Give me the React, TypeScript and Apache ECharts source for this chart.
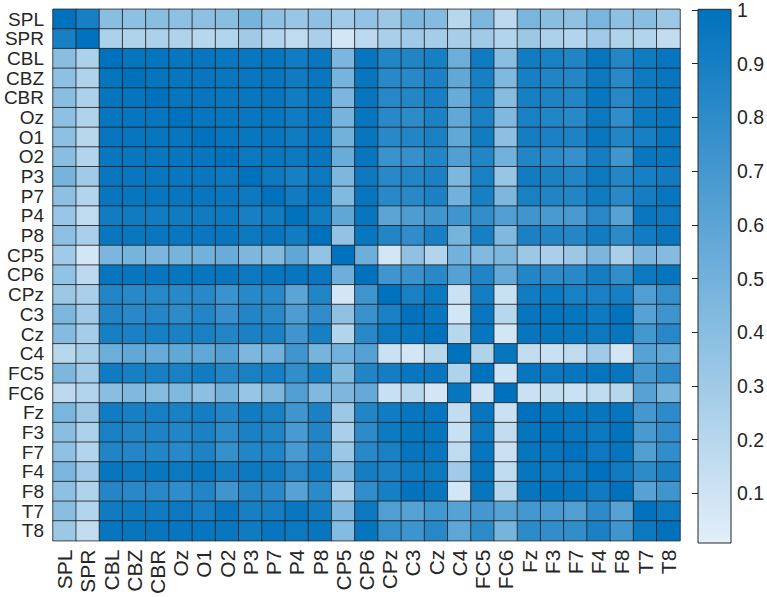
import React, { useEffect, useRef } from "react";
import * as echarts from "echarts";

const channels = [
  "SPL", "SPR", "CBL", "CBZ", "CBR", "Oz", "O1", "O2", "P3", "P7", "P4", "P8", "CP5", "CP6",
  "CPz", "C3", "Cz", "C4", "FC5", "FC6", "Fz", "F3", "F7", "F4", "F8", "T7", "T8",
];

// Upper-triangle rows (from the diagonal to the right)
const rowSPL = [1, 0.9, 0.4, 0.38, 0.4, 0.38, 0.38, 0.4, 0.48, 0.38, 0.33, 0.38, 0.3, 0.36, 0.32, 0.45, 0.42, 0.2, 0.45, 0.18, 0.47, 0.4, 0.37, 0.47, 0.38, 0.4, 0.32];
const rowSPR = [1, 0.25, 0.23, 0.25, 0.23, 0.2, 0.22, 0.3, 0.22, 0.17, 0.26, 0.08, 0.18, 0.26, 0.3, 0.28, 0.27, 0.3, 0.22, 0.32, 0.25, 0.22, 0.3, 0.23, 0.22, 0.15];
const rowCBL = [1, 0.98, 0.98, 0.97, 0.97, 0.96, 0.96, 0.97, 0.92, 0.96, 0.46, 0.97, 0.85, 0.86, 0.9, 0.53, 0.93, 0.4, 0.92, 0.89, 0.86, 0.97, 0.84, 0.93, 0.97];
const rowCBZ = [1, 0.98, 0.97, 0.97, 0.96, 0.96, 0.97, 0.93, 0.96, 0.48, 0.97, 0.82, 0.82, 0.88, 0.57, 0.9, 0.44, 0.9, 0.86, 0.84, 0.95, 0.82, 0.94, 0.97];
const rowCBR = [1, 0.97, 0.97, 0.96, 0.96, 0.97, 0.92, 0.96, 0.46, 0.97, 0.83, 0.84, 0.9, 0.55, 0.9, 0.41, 0.9, 0.87, 0.85, 0.96, 0.83, 0.93, 0.97];
const rowOz = [1, 0.97, 0.97, 0.96, 0.97, 0.93, 0.96, 0.48, 0.97, 0.82, 0.8, 0.88, 0.57, 0.89, 0.44, 0.89, 0.85, 0.82, 0.95, 0.79, 0.95, 0.97];
const rowO1 = [1, 0.97, 0.96, 0.97, 0.93, 0.96, 0.5, 0.97, 0.82, 0.85, 0.89, 0.57, 0.92, 0.39, 0.91, 0.88, 0.87, 0.96, 0.85, 0.9, 0.97];
const rowO2 = [1, 0.95, 0.96, 0.95, 0.97, 0.54, 0.97, 0.74, 0.76, 0.85, 0.64, 0.85, 0.5, 0.85, 0.8, 0.77, 0.91, 0.72, 0.96, 0.96];
const rowP3 = [1, 0.95, 0.9, 0.95, 0.45, 0.95, 0.82, 0.85, 0.88, 0.45, 0.89, 0.34, 0.92, 0.88, 0.85, 0.95, 0.84, 0.9, 0.93];
const rowP7 = [1, 0.93, 0.97, 0.43, 0.97, 0.82, 0.82, 0.88, 0.5, 0.9, 0.45, 0.89, 0.86, 0.85, 0.93, 0.82, 0.91, 0.97];
const rowP4 = [1, 0.92, 0.58, 0.97, 0.6, 0.66, 0.72, 0.72, 0.78, 0.65, 0.72, 0.68, 0.68, 0.83, 0.62, 0.96, 0.95];
const rowP8 = [1, 0.36, 0.96, 0.85, 0.79, 0.9, 0.48, 0.9, 0.44, 0.88, 0.86, 0.84, 0.92, 0.81, 0.92, 0.97];
const rowCP5 = [1, 0.52, 0.08, 0.37, 0.22, 0.5, 0.43, 0.45, 0.32, 0.26, 0.32, 0.46, 0.26, 0.46, 0.42];
const rowCP6 = [1, 0.72, 0.75, 0.82, 0.63, 0.86, 0.56, 0.85, 0.8, 0.82, 0.91, 0.78, 0.95, 0.98];
const rowCPz = [1, 0.89, 0.95, 0.12, 0.91, 0.13, 0.92, 0.94, 0.89, 0.88, 0.9, 0.65, 0.77];
const rowC3 = [1, 0.97, 0.08, 0.96, 0.2, 0.97, 0.98, 0.98, 0.94, 0.99, 0.62, 0.73];
const rowCz = [1, 0.2, 0.97, 0.08, 0.97, 0.98, 0.97, 0.95, 0.97, 0.71, 0.83];
const rowC4 = [1, 0.23, 0.97, 0.15, 0.13, 0.17, 0.3, 0.08, 0.62, 0.59];
const rowFC5 = [1, 0.1, 0.97, 0.95, 0.97, 0.98, 0.97, 0.7, 0.8];
const rowFC6 = [1, 0.12, 0.15, 0.12, 0.17, 0.2, 0.62, 0.48];
const rowFz = [1, 0.98, 0.97, 0.97, 0.97, 0.7, 0.8];
const rowF3 = [1, 0.97, 0.95, 0.99, 0.68, 0.78];
const rowF7 = [1, 0.95, 0.98, 0.65, 0.78];
const rowF4 = [1, 0.93, 0.8, 0.88];
const rowF8 = [1, 0.62, 0.72];
const rowT7 = [1, 0.95];
const rowT8 = [1];

const upperRows = [
  rowSPL, rowSPR, rowCBL, rowCBZ, rowCBR, rowOz, rowO1, rowO2, rowP3, rowP7, rowP4, rowP8, rowCP5,
  rowCP6, rowCPz, rowC3, rowCz, rowC4, rowFC5, rowFC6, rowFz, rowF3, rowF7, rowF4, rowF8, rowT7, rowT8,
];

const colorbarTicks = [0.1, 0.2, 0.3, 0.4, 0.5, 0.6, 0.7, 0.8, 0.9, 1];
const colorMin = 0.008;
const colorMax = 1;

const LOW = "#E3EFF9";
const HIGH = "#0072BD";
const TEXT = "#262626";
const FONT = "Liberation Sans, Arial, Helvetica, sans-serif";

export default function App() {
  const ref = useRef<HTMLDivElement>(null);

  useEffect(() => {
    if (!ref.current) return;
    const chart = echarts.init(ref.current, undefined, { renderer: "svg" });

    const data: number[][] = [];
    upperRows.forEach((row, i) => {
      row.forEach((v, k) => {
        const j = i + k;
        data.push([j, i, v]);
        if (j !== i) data.push([i, j, v]);
      });
    });

    const plotLeft = 53;
    const plotTop = 9.3;
    const plotW = 627;
    const plotH = 533.7;
    const cbLeft = 698;
    const cbW = 33;
    const cbTop = 9.3;
    const cbBottom = 543;
    const pxPerUnit = (493.3 - cbTop) / (colorMax - 0.1);

    chart.setOption({
      animation: false,
      textStyle: { fontFamily: FONT },
      grid: [
        { left: plotLeft, top: plotTop, width: plotW, height: plotH },
        { left: cbLeft, top: cbTop, width: cbW, height: (colorMax - 0.1) * pxPerUnit },
      ],
      xAxis: [
        {
          type: "category",
          gridIndex: 0,
          data: channels,
          axisLine: { show: false },
          axisTick: { show: false },
          splitLine: { show: false },
          axisLabel: {
            rotate: 90,
            interval: 0,
            fontSize: 21,
            color: TEXT,
            margin: 9,
            fontFamily: FONT,
          },
        },
        { type: "value", gridIndex: 1, show: false, min: 0, max: 1 },
      ],
      yAxis: [
        {
          type: "category",
          gridIndex: 0,
          inverse: true,
          data: channels,
          axisLine: { show: false },
          axisTick: { show: false },
          splitLine: { show: false },
          axisLabel: {
            interval: 0,
            fontSize: 19,
            color: TEXT,
            margin: 9,
            fontFamily: FONT,
          },
        },
        {
          type: "value",
          gridIndex: 1,
          position: "right",
          min: colorbarTicks[0],
          max: colorbarTicks[colorbarTicks.length - 1],
          interval: 0.1,
          axisLine: { show: false },
          splitLine: { show: false },
          axisTick: { show: true, inside: true, length: 6, lineStyle: { color: TEXT, width: 1 } },
          axisLabel: {
            fontSize: 19.5,
            color: TEXT,
            margin: 8,
            fontFamily: FONT,
            formatter: (v: number) => String(Math.round(v * 10) / 10),
          },
        },
      ],
      visualMap: {
        type: "continuous",
        show: false,
        min: colorMin,
        max: colorMax,
        dimension: 2,
        seriesIndex: 0,
        inRange: { color: [LOW, HIGH] },
      },
      graphic: [
        {
          type: "rect",
          z: -1,
          shape: { x: cbLeft, y: cbTop, width: cbW, height: cbBottom - cbTop },
          style: {
            fill: {
              type: "linear",
              x: 0,
              y: 0,
              x2: 0,
              y2: 1,
              colorStops: [
                { offset: 0, color: HIGH },
                { offset: 1, color: LOW },
              ],
            },
            stroke: TEXT,
            lineWidth: 1,
          },
        },
      ],
      series: [
        {
          type: "heatmap",
          xAxisIndex: 0,
          yAxisIndex: 0,
          data,
          itemStyle: { borderColor: "#1f1f1f", borderWidth: 0.8 },
          emphasis: { disabled: true },
        },
      ],
    });

    return () => chart.dispose();
  }, []);

  return (
    <div
      ref={ref}
      style={{ position: "fixed", left: 0, top: 0, width: 767, height: 597, background: "#fff" }}
    />
  );
}
